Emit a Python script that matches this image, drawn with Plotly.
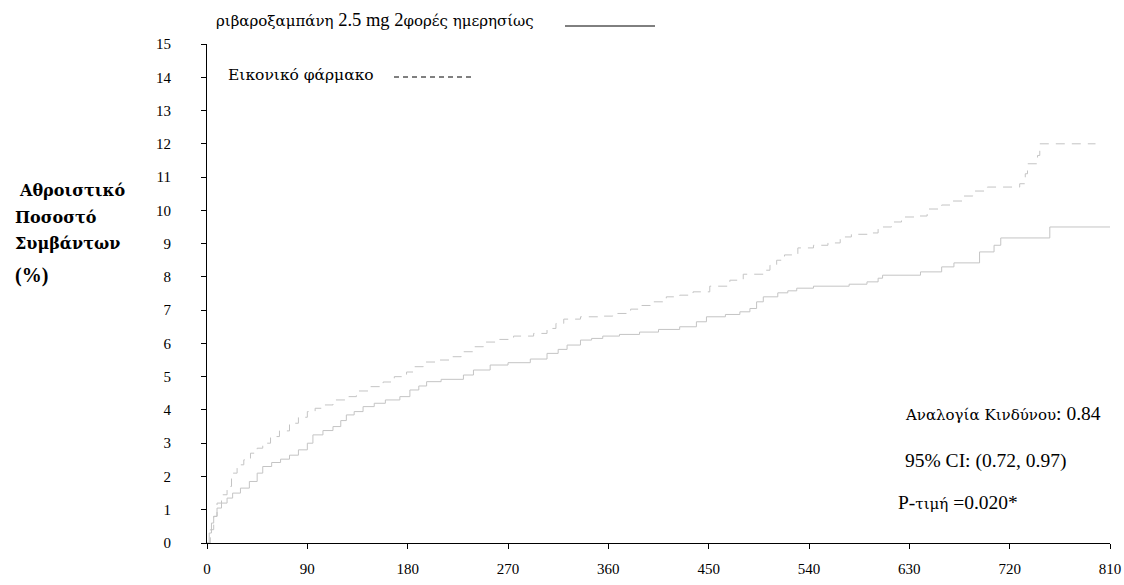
import re
import plotly.graph_objects as go

# ---- data ----
riva_days = [0, 2, 4, 6, 9, 13, 18, 23, 30, 38, 45, 50, 58, 66, 74, 82, 90, 95, 104, 113,
             120, 125, 132, 140, 150, 160, 173, 182, 190, 197, 210, 230, 239, 254, 270,
             290, 305, 315, 323, 335, 345, 355, 370, 388, 405, 424, 439, 448, 465, 478,
             487, 493, 499, 512, 521, 529, 544, 576, 592, 602, 606, 640, 659, 670, 693,
             706, 712, 756, 810]
riva_vals = [0, 0.3, 0.6, 0.8, 1.05, 1.2, 1.35, 1.5, 1.65, 1.85, 2.1, 2.3, 2.42, 2.52, 2.64,
             2.8, 3.0, 3.25, 3.38, 3.5, 3.68, 3.85, 3.95, 4.1, 4.2, 4.3, 4.4, 4.6, 4.72, 4.85,
             4.92, 5.05, 5.2, 5.35, 5.42, 5.53, 5.7, 5.82, 5.95, 6.1, 6.15, 6.22, 6.27, 6.34,
             6.42, 6.5, 6.65, 6.8, 6.87, 6.95, 7.05, 7.25, 7.4, 7.52, 7.58, 7.66, 7.72, 7.78,
             7.85, 7.96, 8.05, 8.15, 8.3, 8.42, 8.75, 8.95, 9.17, 9.5, 9.5]

plac_days = [0, 3, 6, 9, 13, 18, 22, 27, 33, 39, 45, 50, 57, 65, 74, 82, 90, 97, 104, 113,
             125, 134, 146, 158, 168, 179, 186, 194, 205, 218, 228, 239, 248, 262, 275, 293,
             305, 313, 320, 335, 351, 364, 380, 390, 400, 412, 424, 436, 451, 469, 481, 499,
             505, 511, 518, 530, 544, 557, 568, 578, 593, 602, 614, 623, 637, 646, 659, 668,
             678, 687, 700, 729, 734, 736, 745, 747, 797]
plac_vals = [0, 0.4, 0.8, 1.2, 1.45, 1.7, 2.1, 2.35, 2.5, 2.7, 2.85, 3.0, 3.2, 3.37, 3.6,
             3.78, 3.95, 4.05, 4.15, 4.3, 4.4, 4.57, 4.7, 4.84, 5.0, 5.14, 5.3, 5.44, 5.5, 5.6,
             5.75, 5.9, 6.04, 6.12, 6.22, 6.3, 6.45, 6.6, 6.73, 6.8, 6.82, 6.9, 7.03, 7.14,
             7.25, 7.4, 7.45, 7.55, 7.72, 7.9, 8.08, 8.2, 8.35, 8.5, 8.66, 8.87, 8.95, 9.02,
             9.2, 9.28, 9.32, 9.5, 9.65, 9.8, 9.83, 10.04, 10.16, 10.28, 10.43, 10.58, 10.7,
             10.8, 11.1, 11.4, 11.65, 12.0, 12.0]

x_ticks = [0, 90, 180, 270, 360, 450, 540, 630, 720, 810]
y_ticks = list(range(0, 16))

label_riva = "ριβαροξαμπάνη 2.5 mg 2φορές ημερησίως"
label_plac = "Εικονικό φάρμακο"
y_title_lines = [" Αθροιστικό", "Ποσοστό", "Συμβάντων", "(%)"]
stats_lines = ["Αναλογία Κινδύνου: 0.84", "95% CI: (0.72, 0.97)", "P-τιμή =0.020*"]

FONT = "Liberation Serif"
GREEK_FONT = "DejaVu Serif"
LINE_COLOR = "#c4c4c4"

GREEK_RE = re.compile(r"[\u0370-\u03FF\u1F00-\u1FFF]+")


def mixed(text, g_size):
    """Greek runs in a serif font that has Greek glyphs (Liberation Serif here lacks them)."""
    return GREEK_RE.sub(
        lambda m: '<span style="font-family:%s;font-size:%spx">%s</span>' % (GREEK_FONT, g_size, m.group(0)),
        text)


fig = go.Figure()
fig.add_trace(go.Scatter(x=riva_days, y=riva_vals, mode="lines", name=label_riva,
                         line=dict(color=LINE_COLOR, width=1, shape="hv"),
                         showlegend=False, hoverinfo="skip"))
fig.add_trace(go.Scatter(x=plac_days, y=plac_vals, mode="lines", name=label_plac,
                         line=dict(color=LINE_COLOR, width=1, shape="hv", dash="9px,7px"),
                         showlegend=False, hoverinfo="skip"))

L, R, T, B = 207, 14, 44, 42
W, H = 1124, 585
PW, PH = W - L - R, H - T - B


def px(xp):
    return (xp - L) / PW


def py(yp):
    return (H - B - yp) / PH


annotations = []
for txt, yp in zip(y_title_lines, [189, 217, 244, 275]):
    annotations.append(dict(text="<b>" + mixed(txt, 16) + "</b>", x=px(13), y=py(yp),
                            xref="paper", yref="paper", xanchor="left", yanchor="middle",
                            showarrow=False, font=dict(family=FONT, size=20, color="black")))
annotations.append(dict(text=mixed(label_riva, 15), x=px(214), y=py(20), xref="paper", yref="paper",
                        xanchor="left", yanchor="middle", showarrow=False,
                        font=dict(family=FONT, size=18.5, color="black")))
annotations.append(dict(text=mixed(label_plac, 15.5), x=px(226), y=py(74), xref="paper", yref="paper",
                        xanchor="left", yanchor="middle", showarrow=False,
                        font=dict(family=FONT, size=19, color="black")))
for txt, xp, yp in zip(stats_lines, [903, 903, 896], [413, 461, 502]):
    annotations.append(dict(text=mixed(txt, 15), x=px(xp), y=py(yp), xref="paper", yref="paper",
                            xanchor="left", yanchor="middle", showarrow=False,
                            font=dict(family=FONT, size=19.5, color="black")))

shapes = [
    dict(type="line", xref="paper", yref="paper", x0=px(565), x1=px(655), y0=py(26), y1=py(26),
         line=dict(color="black", width=1)),
    dict(type="line", xref="paper", yref="paper", x0=px(394), x1=px(474), y0=py(77), y1=py(77),
         line=dict(color="black", width=1, dash="5px,4px")),
]

fig.update_layout(
    width=W, height=H,
    margin=dict(l=L, r=R, t=T, b=B, pad=0, autoexpand=False),
    paper_bgcolor="white", plot_bgcolor="white",
    font=dict(family=FONT, size=15, color="black"),
    annotations=annotations, shapes=shapes,
    xaxis=dict(range=[0, 810], tickvals=x_ticks, ticktext=[str(v) for v in x_ticks],
               showgrid=False, zeroline=False, showline=True, linecolor="black", linewidth=1,
               ticks="outside", ticklen=5, tickcolor="black", tickwidth=1, automargin=False,
               ticklabelstandoff=7, tickfont=dict(family=FONT, size=15)),
    yaxis=dict(range=[0, 15], tickvals=y_ticks, ticktext=[str(v) for v in y_ticks],
               showgrid=False, zeroline=False, showline=True, linecolor="black", linewidth=1,
               ticks="outside", ticklen=5, tickcolor="black", tickwidth=1, automargin=False,
               ticklabelstandoff=27, tickfont=dict(family=FONT, size=15)),
)

fig.write_html("out.html", config={"displayModeBar": False},
               post_script="document.body.style.margin='0';")
